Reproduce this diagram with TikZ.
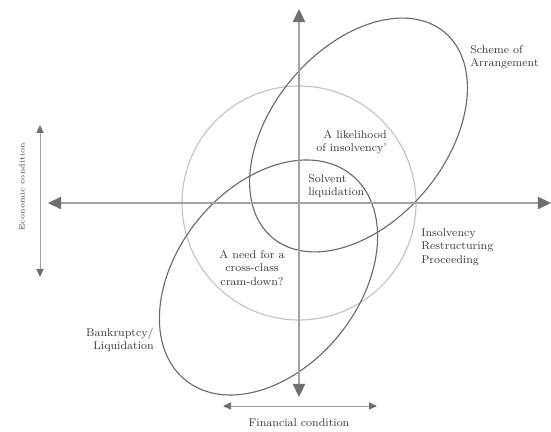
\documentclass[tikz,border=0pt]{standalone}
\usepackage[usenames,dvipsnames]{xcolor}
\usepackage{tikz}
\usetikzlibrary{arrows,arrows.meta}

\definecolor{axisgray}{HTML}{A2A2A2}
\definecolor{tipgray}{HTML}{6E6E6E}
\definecolor{ringgray}{HTML}{C2C2C2}
\definecolor{ovalgray}{HTML}{6A6A6A}
\definecolor{textgray}{HTML}{3C3C3C}

\begin{document}
\begin{tikzpicture}[x=0.025cm,y=0.025cm,
    lbl/.style={inner sep=0pt,font=\footnotesize,text=textgray},
    axis/.style={draw=axisgray,line width=0.9pt,{Triangle[length=0.33cm,width=0.31cm,color=tipgray]}-{Triangle[length=0.33cm,width=0.31cm,color=tipgray]}},
    cond/.style={draw=axisgray,line width=0.7pt,{Triangle[length=0.2cm,width=0.18cm,color=tipgray]}-{Triangle[length=0.2cm,width=0.18cm,color=tipgray]}},
    oval/.style={draw=ovalgray,line width=0.8pt},
    ring/.style={draw=ringgray,line width=0.8pt}]
   \useasboundingbox (0,0) rectangle (551,432);

   % circle and the two ovals
   \draw[ring] (299,229) circle (117);
   \draw[oval,rotate around={50:(358.5,297)}] (358.5,297) ellipse (134 and 87);
   \draw[oval,rotate around={51:(268.5,154.5)}] (268.5,154.5) ellipse (132 and 91);

   % axis ends
   \coordinate (west) at (48,229);
   \coordinate (east) at (551,229);
   \coordinate (north) at (299,423);
   \coordinate (south) at (299,35);
   \coordinate (eup) at (40,307);
   \coordinate (edown) at (40,155);
   \coordinate (fleft) at (223,26);
   \coordinate (fright) at (377,26);

   \draw[axis] (west) -- (east);
   \draw[axis] (north) -- (south);
   \draw[cond] (eup) -- (edown);
   \draw[cond] (fleft) -- (fright);

   % labels
   \draw (470,375) node[lbl,anchor=west,align=left] (scheme) {Scheme of\\Arrangement};
   \draw (387,290) node[lbl,anchor=east,align=right] (likely) {A likelihood\\of insolvency'};
   \draw (308,246) node[lbl,anchor=west,align=left] (solvent) {Solvent\\liquidation};
   \draw (252,164) node[lbl,align=center] (cram) {A need for a\\cross-class\\cram-down?};
   \draw (421,185) node[lbl,anchor=west,align=left] (insolv) {Insolvency\\Restructuring\\Proceeding};
   \draw (154,92) node[lbl,anchor=east,align=right] (bankr) {Bankruptcy/\\Liquidation};
   \draw (22,245) node[lbl,rotate=90,font=\fontsize{5.3}{6.5}\selectfont] (econ) {Economic condition};
   \draw (299,9) node[lbl] (fin) {Financial condition};

\end{tikzpicture}
\end{document}
